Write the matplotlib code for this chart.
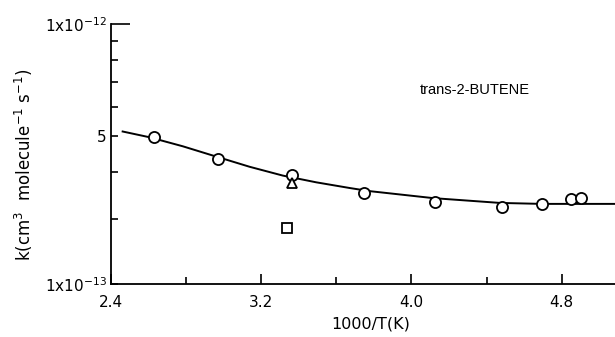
import matplotlib.pyplot as plt
from matplotlib.ticker import FixedLocator, NullFormatter

plt.rcParams["font.size"] = 11
plt.rcParams["font.family"] = "DejaVu Sans"
plt.rcParams["mathtext.default"] = "regular"

# measured rate constants (circles), plus the two other points near 3.35
circ_x = [2.627, 2.969, 3.363, 3.747, 4.128, 4.48, 4.693, 4.848, 4.901]
circ_k = [4.99e-13, 4.35e-13, 3.94e-13, 3.51e-13, 3.32e-13, 3.23e-13, 3.29e-13, 3.40e-13, 3.42e-13]
tri_x = [3.363]
tri_k = [3.74e-13]
sq_x = [3.337]
sq_k = [2.84e-13]

# fitted curve
fit_x = [2.462, 2.605, 2.782, 2.96, 3.138, 3.315, 3.493, 3.671, 3.778, 4.115, 4.471, 4.693, 5.084]
fit_k = [5.15e-13, 4.97e-13, 4.70e-13, 4.41e-13, 4.14e-13, 3.92e-13, 3.76e-13, 3.63e-13, 3.56e-13,
         3.41e-13, 3.31e-13, 3.29e-13, 3.29e-13]

fig = plt.figure(figsize=(6.15, 3.37), dpi=100)
ax = fig.add_axes([111 / 615, 1 - 284.3 / 337, 1 - 111 / 615, (284.3 - 24.3) / 337])

ax.plot(fit_x, fit_k, color="black", lw=1.4)
ax.plot(circ_x, circ_k, "o", ms=8, mfc="white", mec="black", mew=1.3)
ax.plot(tri_x, tri_k, "^", ms=7, mfc="white", mec="black", mew=1.3)
ax.plot(sq_x, sq_k, "s", ms=6.5, mfc="white", mec="black", mew=1.3)

ax.set_yscale("log")
ax.set_ylim(2e-13, 1e-12)
ax.set_xlim(2.4, 5.084)

ax.spines["top"].set_visible(False)
ax.spines["right"].set_visible(False)
ax.spines["left"].set_linewidth(1.3)
ax.spines["bottom"].set_linewidth(1.3)

ax.yaxis.set_major_locator(FixedLocator([2e-13, 5e-13, 1e-12]))
ax.set_yticklabels([r"$1x10^{-13}$", "5", r"$1x10^{-12}$"])
ax.yaxis.set_minor_locator(FixedLocator([3e-13, 4e-13, 6e-13, 7e-13, 8e-13, 9e-13]))
ax.yaxis.set_minor_formatter(NullFormatter())
ax.tick_params(axis="y", which="both", direction="in", length=5, width=1.2, pad=3)
ax.yaxis.get_major_ticks()[2].tick1line.set_markersize(14)

ax.set_xticks([2.4, 3.2, 4.0, 4.8], ["2.4", "3.2", "4.0", "4.8"])
ax.xaxis.set_minor_locator(FixedLocator([2.8, 3.6, 4.4]))
ax.tick_params(axis="x", which="major", direction="in", length=7, width=1.2, pad=8)
ax.tick_params(axis="x", which="minor", direction="in", length=5, width=1.2)

ax.set_xlabel("1000/T(K)", fontsize=11.5)
ax.xaxis.set_label_coords(0.516, -0.125)
ax.set_ylabel(r"k(cm$^3$  molecule$^{-1}$ s$^{-1}$)", fontsize=12)
ax.yaxis.set_label_coords(-0.15, 0.459)
ax.text(4.044, 6.66e-13, "trans-2-BUTENE", fontsize=10.5,
        family="Liberation Sans", ha="left", va="center")

fig.savefig("out.png")
